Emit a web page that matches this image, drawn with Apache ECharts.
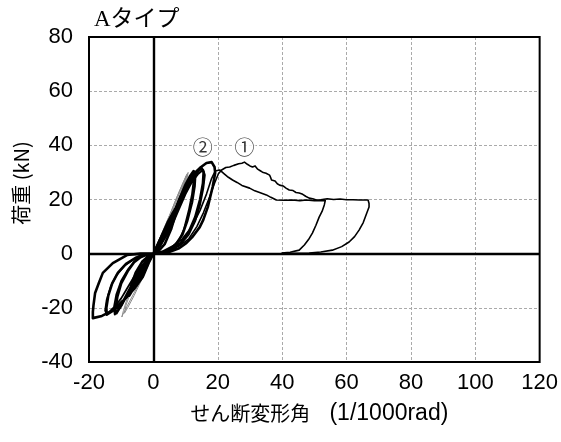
<!DOCTYPE html>
<html>
<head>
<meta charset="utf-8">
<script src="https://cdn.jsdelivr.net/npm/echarts@6/dist/echarts.min.js"></script>
<style>
  html, body { margin: 0; padding: 0; background: #fff; }
  #chart { width: 561px; height: 442px; }
</style>
</head>
<body>
<div id="chart"></div>
<script>
// Shear deformation angle (1/1000 rad) vs load (kN), type A specimens

const xTicks = [-20, 0, 20, 40, 60, 80, 100, 120];
const yTicks = [-40, -20, 0, 20, 40, 60, 80];

// Specimen 1: cyclic loops (thin black)
const loops1 = [
  [0,0],[1.5,4],[3,8],[4.5,12],[5.5,14],[4.5,10],[3,5],[1.5,1.5],[0,0],
  [-1.5,-3],[-3,-6.5],[-4.5,-10],[-5.5,-12],[-4.5,-8],[-3,-4],[-1.5,-1],[0,0],
  [2,3],[4,8],[6,13],[8,19],[10,24.5],[12,28.5],[12.5,27],[12,22],[11,16],[9.5,9],[8,5],[6,2.5],[4,1],[2,0.3],[0,0],
  [-2,-2.5],[-4,-6],[-6,-10.5],[-8,-15],[-10,-19.5],[-12,-22.5],[-12.3,-20],[-11.5,-15],[-10,-10],[-8,-6],[-6,-3],[-4,-1.2],[-2,-0.3],[0,0],
  [2,2.5],[4,6.5],[6,11],[8,16.5],[10,22],[12,26.5],[14,29.5],[15.5,31],[16,29],[15.5,24],[14.5,18],[13,12],[11,7],[8.5,3.5],[6,1.5],[3,0.4],[0,0],
  [-2,-2],[-4,-5],[-6,-8.5],[-8,-12.5],[-10,-16.5],[-12,-19.5],[-14.5,-22.5],[-15,-21],[-14.5,-17],[-13.2,-12],[-11.5,-8],[-9,-4.5],[-6,-2],[-3,-0.5],[0,0]
];
// Specimen 1: final push, softening and unloading
const push1 = [
  [0,0],[4,1],[8,2.8],[11,5.5],[13.5,10],[15.5,15],[17.5,21],[19,26],[20.2,29.5],[21.2,30.9],[22.5,31.8],[23.7,32],[25,32.6],
  [26.5,33.2],[27.5,33.4],[28.3,33.8],[29.2,33],[30,32.4],[30.8,32],[31.6,32.4],[32.4,31.2],[33.2,30.6],[33.9,30.1],
  [35,29.7],[36.1,29],[36.4,28.2],[36.7,27.2],[37.8,26.8],[38.5,25.8],[39.2,25.3],[40.3,25],[41.2,24.2],[42.2,23.5],
  [43.4,23.3],[44.3,22.6],[45.3,22.4],[46.4,21.9],[47.3,21.2],[48.4,20.5],[49.5,20.3],[50.6,19.8],[52,19.9],[54,20.3],
  [56,20],[58,20.2],[60,19.9],[62,19.9],[64,19.8],[66.7,19.8],[67,18.5],[67,17.2],[66.3,15],[65.2,11.5],[63.9,8.7],
  [62.5,6.3],[60.8,4.3],[58.5,2.6],[55.6,1.3],[52,0.6],[48.4,0.2],[44,0.1],[40,0]
];

// Specimen 2: cyclic loops (heavy black)
const loops2 = [
  [0,0],[2,5],[4,10],[6,15],[7.5,18],[7,15],[5.5,9],[3.5,3.5],[1.5,0.8],[0,0],
  [-2,-4],[-4,-8.5],[-6,-12.5],[-7.5,-15.5],[-7,-12],[-5.5,-7],[-3.5,-3],[-1.5,-0.8],[0,0],
  [2,3.5],[4,8.5],[6,14],[8,20],[10,25.5],[11.3,28.5],[12.5,30.5],[13,29],[12.8,25],[12,19],[10.5,12],[9,7],[7,3.5],[4.5,1.2],[2,0.3],[0,0],
  [-2,-2.5],[-4,-6],[-6,-10],[-8,-14.5],[-10,-19],[-11.5,-22],[-11.8,-20.5],[-11.2,-16],[-10,-11],[-8,-6.5],[-6,-3.2],[-4,-1.3],[-2,-0.3],[0,0],
  [2,3],[4,7.5],[6,12.5],[8,18],[10,23],[12,27],[14,30.5],[15,31.5],[15.6,30],[15.4,26],[14.5,20],[13,13.5],[11,8],[8.5,4],[5.5,1.5],[2.5,0.3],[0,0],
  [-2,-3],[-4,-7],[-6,-11],[-8,-15],[-10,-18.5],[-12.5,-21],[-14.5,-22.5],[-14.6,-20],[-14,-15.5],[-12.8,-11],[-11,-7],[-8.5,-3.8],[-5.5,-1.5],[-2.5,-0.3],[0,0],
  [2.2,3.9],[4,9],[5.5,13.5],[7.3,17.2],[9,22],[11.3,27.2],[13,30],[14.4,31.6],[16.5,33.5],[18.1,33.8],[19,32],[19.2,29.8],
  [18.4,24.6],[16.9,17.2],[15.5,12.5],[14.4,9.8],[12,6],[10.3,4],[8,2],[5.1,0.7],[2,0.2],[0,0],
  [-1.5,-3.5],[-3.3,-8.6],[-6,-13],[-8.2,-16],[-11,-19],[-13.5,-21.5],[-16,-23],[-18.8,-23.8],[-18.8,-21.5],[-18.6,-19],
  [-18.1,-14.5],[-17,-11],[-15.7,-7.1],[-12.6,-3.5],[-8.2,-0.5],[-4,0],[0,0]
];
// Specimen 2: final push, softening and unloading
const push2 = [
  [0,0],[3,1],[6,2.8],[9,5.5],[12,10],[14.5,16],[16.5,22],[18,27.5],[19.2,30.5],[20.6,30.9],[22,29.5],[23.3,28.2],
  [24.6,27.2],[26,26.3],[27.5,25.2],[29.9,24.2],[31.5,23.2],[33,22.6],[35.1,21.7],[36.5,20.8],[38.2,19.8],[40.5,19.7],
  [43.2,19.8],[45.5,19.6],[47.5,19.8],[50,19.6],[53.4,19.6],[53.1,18],[52.4,15.6],[51.5,13.5],[50.5,10.5],[49.4,7.6],
  [48.2,5.2],[46.9,3.2],[45.3,1.3],[42.5,0.5],[39.8,0.2]
];

// Early small-amplitude cycles (grey)
const loopsGrey = [
  [0,0],[2,5],[4,10.5],[6,16],[8,22],[10,27.5],[10.8,30],[10.5,28],[9.5,24],[7.5,17],[5.5,11],[3.5,5.5],[1.5,1.5],[0,0],
  [-2,-5],[-4,-10],[-6,-14.5],[-8,-19],[-9.5,-22.5],[-9.8,-23.4],[-9.3,-21],[-8,-16],[-6,-11],[-4,-6.5],[-2,-2.5],[0,0],
  [1,3],[3,8.5],[5,14],[7,20],[9,25.5],[10.2,28.8],[9.6,26],[8,20.5],[6,14],[4,8],[2,3],[0,0],
  [-2,-5.5],[-4,-10.5],[-6,-15.5],[-8,-20],[-9,-22],[-8.5,-19],[-7,-14],[-5,-9],[-3,-4.5],[-1,-1],[0,0],
  [1.5,4.5],[3.5,10],[5.5,15.5],[7.5,21.5],[9.5,27],[10.5,29.5],[10,27],[8.5,22],[6.5,16],[4.5,10],[2.5,5],[0,0]
];

// Circled specimen numbers
const noteText = ['②', '①'];
const notePos = [[15.3, 39.4], [28.3, 39.4]];

const chart = echarts.init(document.getElementById('chart'), null, { renderer: 'canvas' });

function line(data, color, width, z) {
  return {
    type: 'line', data: data, showSymbol: false, symbol: 'none', smooth: false,
    lineStyle: { color: color, width: width, join: 'round' }, z: z, animation: false
  };
}

chart.setOption({
  animation: false,
  grid: { left: 89, right: 20, top: 37, bottom: 80, show: true, borderColor: '#000', borderWidth: 2, backgroundColor: 'transparent', z: 10 },
  xAxis: {
    type: 'value', min: xTicks[0], max: xTicks[xTicks.length - 1], interval: 20,
    axisLine: { show: false, onZero: false }, axisTick: { show: false },
    axisLabel: { color: '#000', fontSize: 22, fontFamily: 'Liberation Sans, Arial', margin: 10 },
    splitLine: { show: true, lineStyle: { color: '#aaa', width: 1, type: [3, 2] } },
    name: '{j|せん断変形角}{l|   (1/1000rad)}', nameLocation: 'middle', nameGap: 40,
    nameTextStyle: {
      color: '#000', fontFamily: '"Liberation Sans", "Noto Sans CJK JP"', padding: [0, 0, 0, 10],
      rich: {
        j: { fontSize: 20, fontFamily: '"Noto Sans CJK JP"', color: '#000' },
        l: { fontSize: 23, fontFamily: '"Liberation Sans"', color: '#000' }
      }
    }
  },
  yAxis: {
    type: 'value', min: yTicks[0], max: yTicks[yTicks.length - 1], interval: 20,
    axisLine: { show: false, onZero: false }, axisTick: { show: false },
    axisLabel: { color: '#000', fontSize: 22, fontFamily: 'Liberation Sans, Arial', margin: 16 },
    splitLine: { show: true, lineStyle: { color: '#aaa', width: 1, type: [3, 2] } }
  },
  graphic: [
    { type: 'text', left: 94, top: 8, style: { text: 'Aタイプ', font: '23px "Liberation Serif", "Noto Sans CJK JP"', fill: '#000' } },
    { type: 'text', x: 21, y: 183, rotation: Math.PI / 2,
      style: { text: '荷重 (kN)', font: '20px "Noto Sans CJK JP"', fill: '#000', align: 'center', verticalAlign: 'middle' } }
  ],
  series: [
    Object.assign(line(loopsGrey, '#8c8c8c', 1, 3), {
      markLine: {
        silent: true, symbol: 'none', label: { show: false },
        lineStyle: { color: '#000', width: 2.4, type: 'solid' },
        data: [{ xAxis: 0 }, { yAxis: 0 }]
      }
    }),
    line(loops1, '#000', 1.8, 4),
    line(push1, '#000', 1.6, 4),
    line(loops2, '#000', 2.6, 5),
    line(push2, '#000', 1.6, 4),
    {
      type: 'scatter', symbolSize: 0, z: 6, animation: false,
      data: notePos.map((p, i) => ({ value: p, name: noteText[i] })),
      label: { show: true, position: 'inside', formatter: '{b}', color: '#000', fontSize: 20, fontFamily: 'Noto Sans CJK JP', backgroundColor: '#fff', padding: [0, 1] }
    }
  ]
});
</script>
</body>
</html>
